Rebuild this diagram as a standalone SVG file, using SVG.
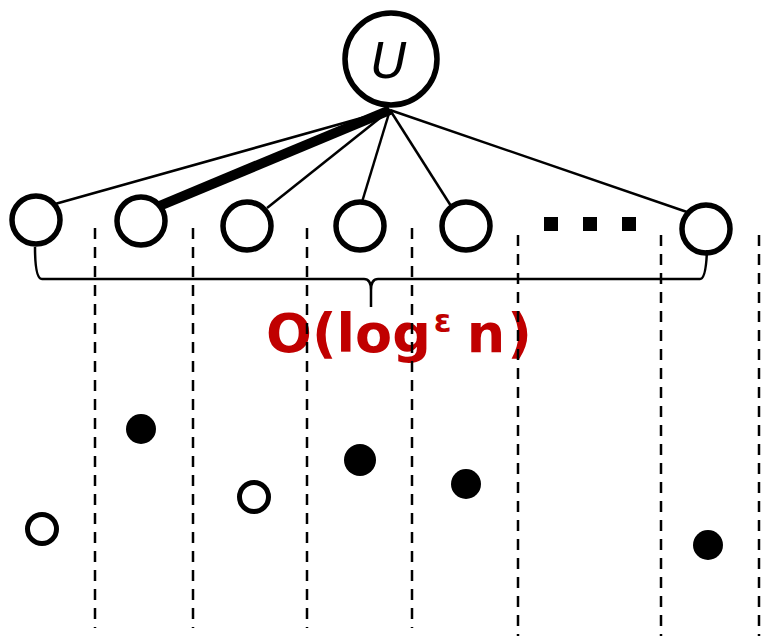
<svg xmlns="http://www.w3.org/2000/svg" width="761" height="638" viewBox="0 0 761 638">
<style>
.node{fill:#fff;stroke:#000;stroke-width:5.5}
.edge{stroke:#000;stroke-width:2.5;fill:none}
.dash{stroke:#000;stroke-width:2.5;stroke-dasharray:11 8;fill:none}
.pt-open{fill:#fff;stroke:#000;stroke-width:5}
.pt-fill{fill:#000}
</style>
<rect width="761" height="638" fill="#fff"/>
<g id="connectors">
<line class="edge" x1="55" y1="204" x2="390" y2="110"/>
<line x1="157" y1="207" x2="390" y2="110" stroke="#000" stroke-width="10"/>
<line class="edge" x1="267" y1="208" x2="390" y2="110"/>
<line class="edge" x1="362" y1="202" x2="390" y2="110"/>
<line class="edge" x1="451" y1="206" x2="390" y2="110"/>
<line class="edge" x1="687" y1="212" x2="390" y2="110"/>
</g>
<g id="U">
<circle class="node" cx="391" cy="59" r="46"/>
<text x="389" y="78" text-anchor="middle" font-family="DejaVu Sans, sans-serif" font-style="italic" font-size="50">U</text>
</g>
<g id="c1"><circle class="node" cx="36" cy="220" r="24"/></g>
<g id="c2"><circle class="node" cx="141" cy="221" r="24"/></g>
<g id="c3"><circle class="node" cx="247" cy="226" r="24"/></g>
<g id="c4"><circle class="node" cx="360" cy="226" r="24"/></g>
<g id="c5"><circle class="node" cx="466" cy="226" r="24"/></g>
<g id="c6"><circle class="node" cx="706" cy="229" r="24"/></g>
<g id="ellipsis">
<rect x="544" y="217" width="14" height="14"/>
<rect x="583" y="217" width="14" height="14"/>
<rect x="622" y="217" width="14" height="14"/>
</g>
<g id="brace">
<path d="M35,247 Q35,279 42,279 L364,279 Q371,279 371,290 L371,307 M371,290 Q371,279 378,279 L700,279 Q706,279 707,250" fill="none" stroke="#000" stroke-width="2.5"/>
</g>
<g id="label">
<text x="266" y="352" font-family="DejaVu Sans, sans-serif" font-weight="bold" font-size="54" fill="#c00000">O(log<tspan font-size="32" dx="3" dy="-20">ε</tspan><tspan dx="15" dy="20">n</tspan><tspan dx="2">)</tspan></text>
</g>
<g id="slabs">
<line class="dash" x1="95" y1="228" x2="95" y2="628"/>
<line class="dash" x1="193" y1="228" x2="193" y2="628"/>
<line class="dash" x1="307" y1="228" x2="307" y2="628"/>
<line class="dash" x1="412" y1="228" x2="412" y2="628"/>
<line class="dash" x1="518" y1="235" x2="518" y2="636"/>
<line class="dash" x1="661" y1="235" x2="661" y2="636"/>
<line class="dash" x1="759" y1="235" x2="759" y2="636"/>
</g>
<g id="points">
<circle class="pt-open" cx="42" cy="529" r="14.5"/>
<circle class="pt-fill" cx="141" cy="429" r="15"/>
<circle class="pt-open" cx="254" cy="497" r="14.5"/>
<circle class="pt-fill" cx="360" cy="460" r="16"/>
<circle class="pt-fill" cx="466" cy="484" r="15"/>
<circle class="pt-fill" cx="708" cy="545" r="15"/>
</g>
</svg>
